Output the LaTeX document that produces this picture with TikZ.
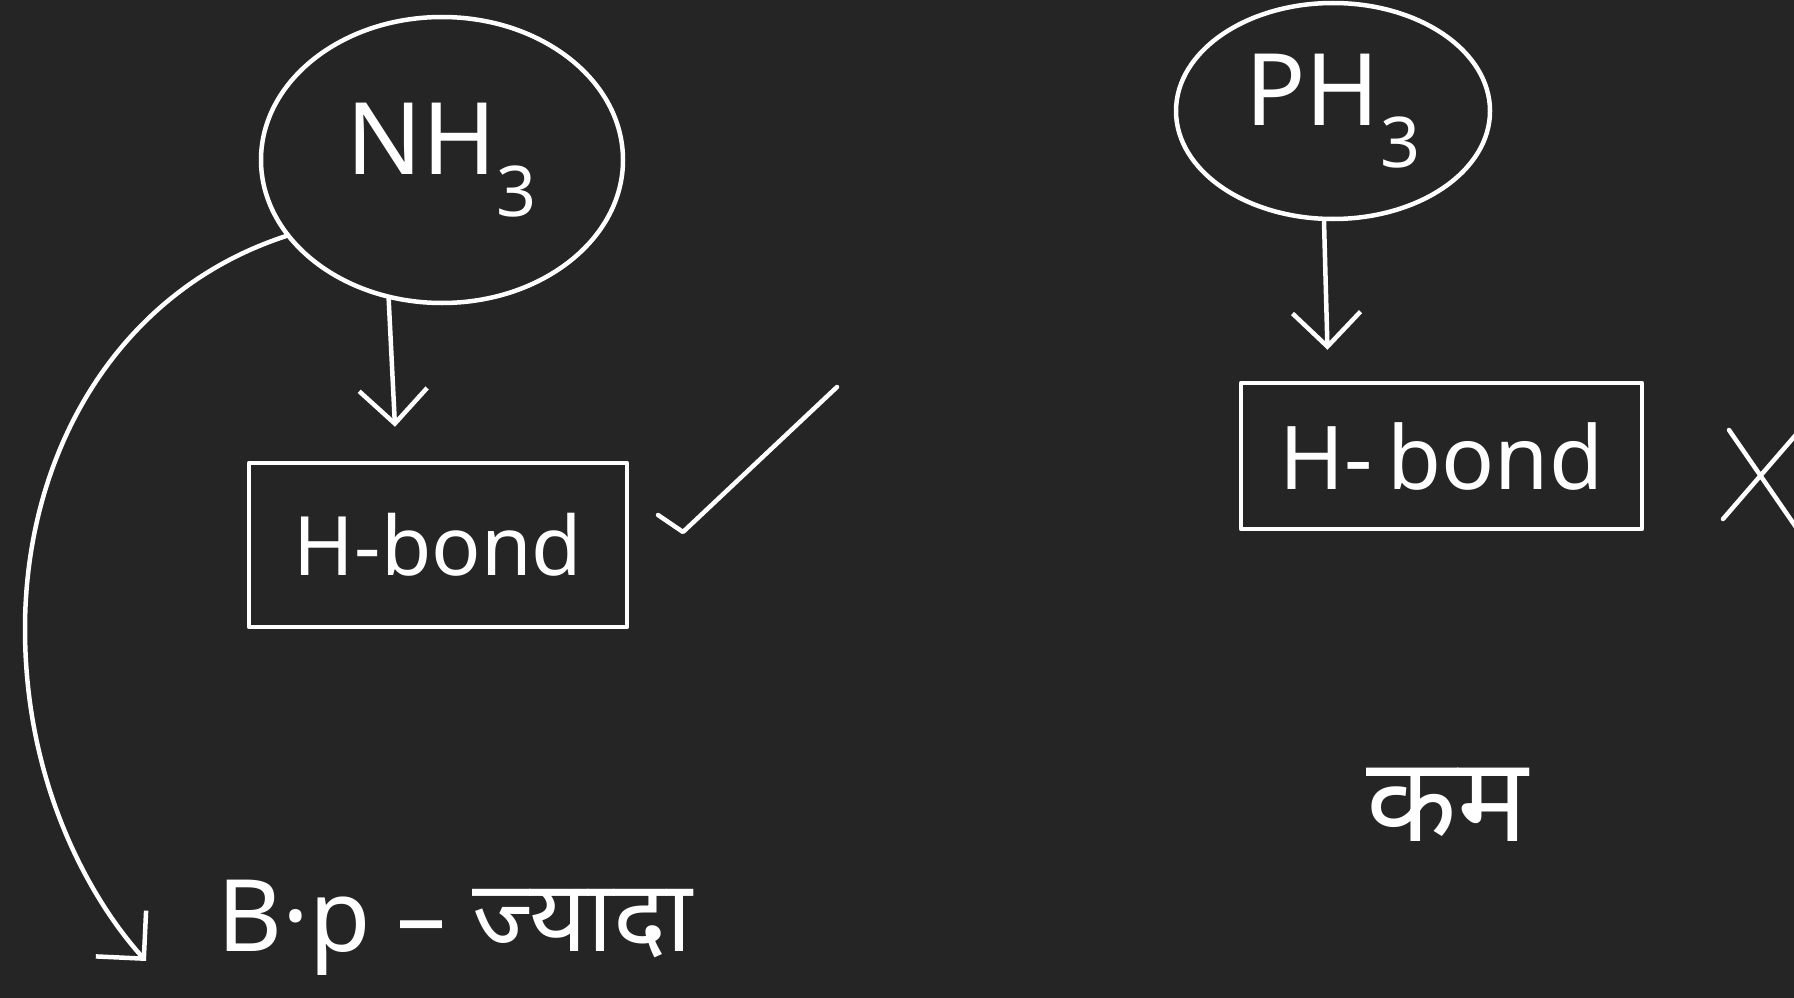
\documentclass[tikz,border=0pt]{standalone}
\usepackage{fontspec}
\setmainfont{Noto Sans}
\newfontfamily\deva[Script=Devanagari]{Noto Sans}
\usetikzlibrary{arrows.meta,shapes.geometric}
\definecolor{bg}{RGB}{37,37,37}
\begin{document}
\begin{tikzpicture}[x=1pt,y=-1pt,
  ink/.style={draw=white, line width=4.5pt, line cap=round, line join=round},
  txt/.style={text=white, inner sep=0pt},
  arr/.style={ink, -{Straight Barb[length=34pt,width=68pt,line width=4.5pt]}},
  big/.style={font=\fontsize{100}{110}\selectfont}]
\fill[bg] (0,0) rectangle (1794,998);
\useasboundingbox (0,0) rectangle (1794,998);
% left part
\node[ink, ellipse, minimum width=362pt, minimum height=286pt, text=white, big] (nh3) at (442,160) {NH\textsubscript{3}};
\node[ink, rectangle, minimum width=378pt, minimum height=164pt, text=white, font=\fontsize{82}{90}\selectfont] (b1) at (438,545) {H-bond};
\draw[arr] (nh3.249) -- ([xshift=-43pt,yshift=34pt]b1.north);
\coordinate (ck1) at (658,515);
\coordinate (ck2) at (683,532);
\coordinate (ck3) at (837,387);
\draw[ink] (ck1) -- (ck2) -- (ck3);
\node[txt, anchor=west, big] (bp) at (217,928) {B·p -- {\deva ज्यादा}};
\coordinate (cv) at (25,629);
\draw[arr] (nh3.206) .. controls (120,290) and (25,450) .. (cv) .. controls (25,790) and (95,905) .. (146,961);
% right part
\node[ink, ellipse, minimum width=314pt, minimum height=216pt, text=white, big] (ph3) at (1333,111) {PH\textsubscript{3}};
\node[ink, rectangle, minimum width=401pt, minimum height=146pt, text=white, font=\fontsize{88}{96}\selectfont] (b2) at (1441.5,456) {H-\,bond};
\draw[arr] ([xshift=-9pt]ph3.south) -- ([xshift=-114pt,yshift=31pt]b2.north);
\coordinate (x1) at (1723,519);
\coordinate (x2) at (1800,430);
\coordinate (x3) at (1729,430);
\coordinate (x4) at (1800,533);
\draw[ink] (x1) -- (x2) (x3) -- (x4);
\node[txt, font=\deva\fontsize{118}{128}\selectfont] (kam) at (1447,805) {कम};
\end{tikzpicture}
\end{document}
